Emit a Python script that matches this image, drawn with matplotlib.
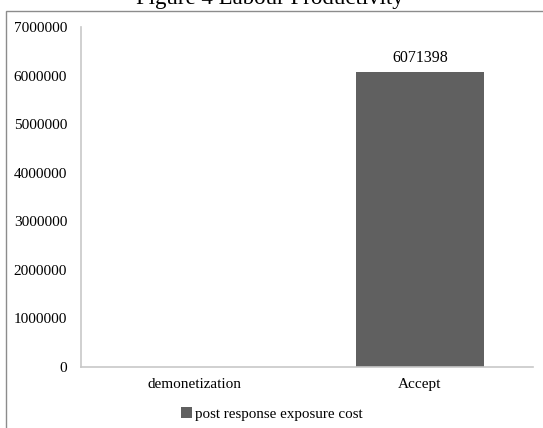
import matplotlib
matplotlib.use('Agg')
import matplotlib.pyplot as plt
from matplotlib.patches import Rectangle

categories = ['demonetization', 'Accept']
cost = [0, 6071398]
series_name = 'post response exposure cost'
yticks = [0, 1000000, 2000000, 3000000, 4000000, 5000000, 6000000, 7000000]

plt.rcParams['font.family'] = 'Liberation Serif'

W, H = 543, 428
fig = plt.figure(figsize=(W / 100, H / 100), dpi=100)

# chart border, runs off the right and bottom edges
fig.patches.append(Rectangle((6 / W, -0.1), 1.2, 1 - 11 / H + 0.1, transform=fig.transFigure,
                             fill=False, edgecolor='#8c8c8c', linewidth=1.0))

fig.text(270 / W, 1 - 4 / H, 'Figure 4 Labour Productivity', ha='center', va='baseline',
         fontsize=16.5, color='black')

ax = fig.add_axes([81 / W, 1 - 367 / H, (533 - 81) / W, (367 - 27) / H])
x = list(range(len(categories)))
bars = ax.bar(x, cost, width=0.57, color='#606060', label=series_name, zorder=2)
for b, v in zip(bars, cost):
    if v:
        ax.text(b.get_x() + b.get_width() / 2, v + 120000, str(v), ha='center', va='bottom',
                fontsize=11.5)

ax.set_xlim(-0.5, 1.5)
ax.set_ylim(0, 7000000)
ax.set_yticks(yticks)
ax.set_yticklabels([str(t) for t in yticks])
ax.set_xticks(x)
ax.set_xticklabels(categories)
ax.tick_params(axis='both', length=0, labelsize=11)
ax.tick_params(axis='y', pad=10)
ax.tick_params(axis='x', pad=8)
for s in ['top', 'right']:
    ax.spines[s].set_visible(False)
for s in ['left', 'bottom']:
    ax.spines[s].set_color('#c8c8c8')
    ax.spines[s].set_linewidth(1.2)

leg = fig.legend(loc='center', bbox_to_anchor=(272 / W, 1 - 414 / H), frameon=False,
                 fontsize=10.8, handlelength=0.7, handleheight=0.7, handletextpad=0.2)

fig.savefig('out.png', dpi=100)
